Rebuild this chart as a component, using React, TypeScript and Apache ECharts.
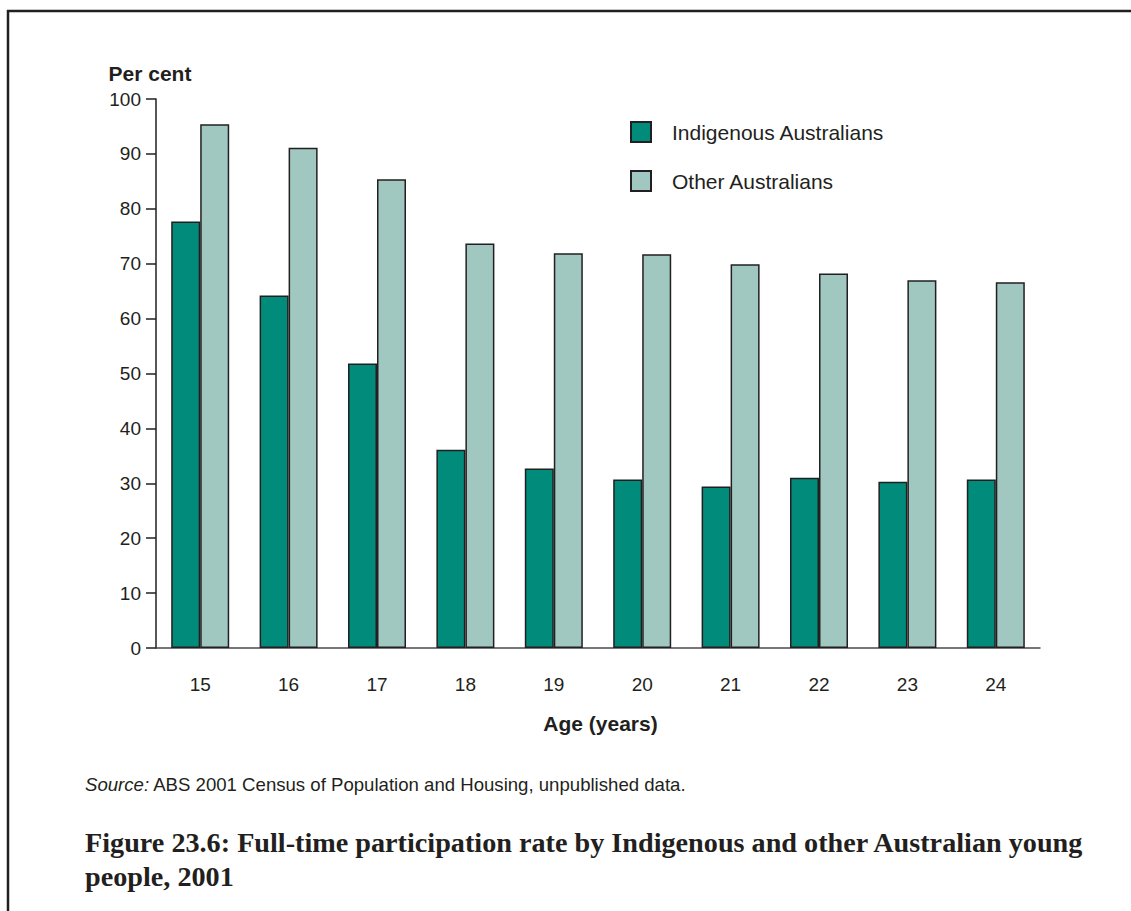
import React, { useEffect, useRef } from "react";
import * as echarts from "echarts";

const ages = ["15", "16", "17", "18", "19", "20", "21", "22", "23", "24"];
const indigenous = [77.7, 64.2, 51.8, 36.1, 32.7, 30.7, 29.4, 31.0, 30.3, 30.7];
const other = [95.4, 91.1, 85.4, 73.7, 71.9, 71.7, 69.9, 68.2, 67.0, 66.6];
const seriesNames = ["Indigenous Australians", "Other Australians"];
const yTicks = [0, 10, 20, 30, 40, 50, 60, 70, 80, 90, 100];

const SANS = "'Liberation Sans', Arial, sans-serif";
const SERIF = "'Liberation Serif', 'Times New Roman', serif";
const INK = "#231f20";

export default function App() {
  const ref = useRef<HTMLDivElement>(null);
  useEffect(() => {
    document.body.style.margin = "0";
    const chart = echarts.init(ref.current!, undefined, { renderer: "svg" });
    chart.setOption({
      animation: false,
      backgroundColor: "#ffffff",
      textStyle: { fontFamily: SANS },
      grid: { left: 156, right: 91, top: 99, bottom: 263, containLabel: false },
      legend: {
        orient: "vertical",
        left: 625,
        top: 116,
        itemWidth: 20,
        itemHeight: 20,
        itemGap: 27,
        icon: "rect",
        textStyle: { fontSize: 21, color: INK, fontFamily: SANS, padding: [0, 0, 0, 16] },
        data: seriesNames,
      },
      xAxis: {
        type: "category",
        data: ages,
        name: "Age (years)",
        nameLocation: "middle",
        nameGap: 65,
        nameTextStyle: { fontSize: 21, fontWeight: "bold", color: INK, fontFamily: SANS, padding: [0, 0, 0, 5] },
        axisLine: { lineStyle: { color: "#4a4a4a", width: 1.5 } },
        axisTick: { show: false },
        axisLabel: { fontSize: 19, color: INK, margin: 27, fontFamily: SANS },
      },
      yAxis: {
        type: "value",
        min: 0,
        max: 100,
        interval: 10,
        name: "Per cent",
        nameLocation: "end",
        nameGap: 15,
        nameTextStyle: { fontSize: 21, fontWeight: "bold", color: INK, fontFamily: SANS, align: "center", padding: [0, 12, 0, 0] },
        axisLine: { show: true, lineStyle: { color: INK, width: 1.5 } },
        axisTick: { show: true, length: 10, lineStyle: { color: INK, width: 1.5 } },
        splitLine: { show: false },
        axisLabel: {
          fontSize: 19,
          color: INK,
          margin: 15,
          fontFamily: SANS,
          formatter: (v: number) => (yTicks.includes(v) ? String(v) : ""),
        },
      },
      series: [
        {
          name: seriesNames[0],
          type: "bar",
          data: indigenous,
          barWidth: 29,
          barGap: "0%",
          itemStyle: { color: "#008b7a", borderColor: INK, borderWidth: 1.5 },
        },
        {
          name: seriesNames[1],
          type: "bar",
          data: other,
          barWidth: 29,
          barGap: "0%",
          itemStyle: { color: "#a0c8c0", borderColor: INK, borderWidth: 1.5 },
        },
      ],
      graphic: [
        { type: "line", shape: { x1: 8, y1: 10, x2: 8, y2: 911 }, style: { stroke: INK, lineWidth: 2.5 } },
        { type: "line", shape: { x1: 7, y1: 11, x2: 1131, y2: 11 }, style: { stroke: INK, lineWidth: 2.5 } },
        {
          type: "text",
          left: 85,
          top: 775,
          style: {
            text: "{i|Source:} ABS 2001 Census of Population and Housing, unpublished data.",
            font: `18.6px ${SANS}`,
            fill: INK,
            rich: { i: { fontStyle: "italic", fontSize: 18.6, fontFamily: SANS, fill: INK } },
          },
        },
        {
          type: "text",
          left: 85,
          top: 825,
          style: {
            text: "Figure 23.6: Full-time participation rate by Indigenous and other Australian young\npeople, 2001",
            font: `bold 28.2px ${SERIF}`,
            lineHeight: 34,
            fill: INK,
          },
        },
      ],
    });
    return () => chart.dispose();
  }, []);
  return <div ref={ref} style={{ width: 1131, height: 911 }} />;
}
